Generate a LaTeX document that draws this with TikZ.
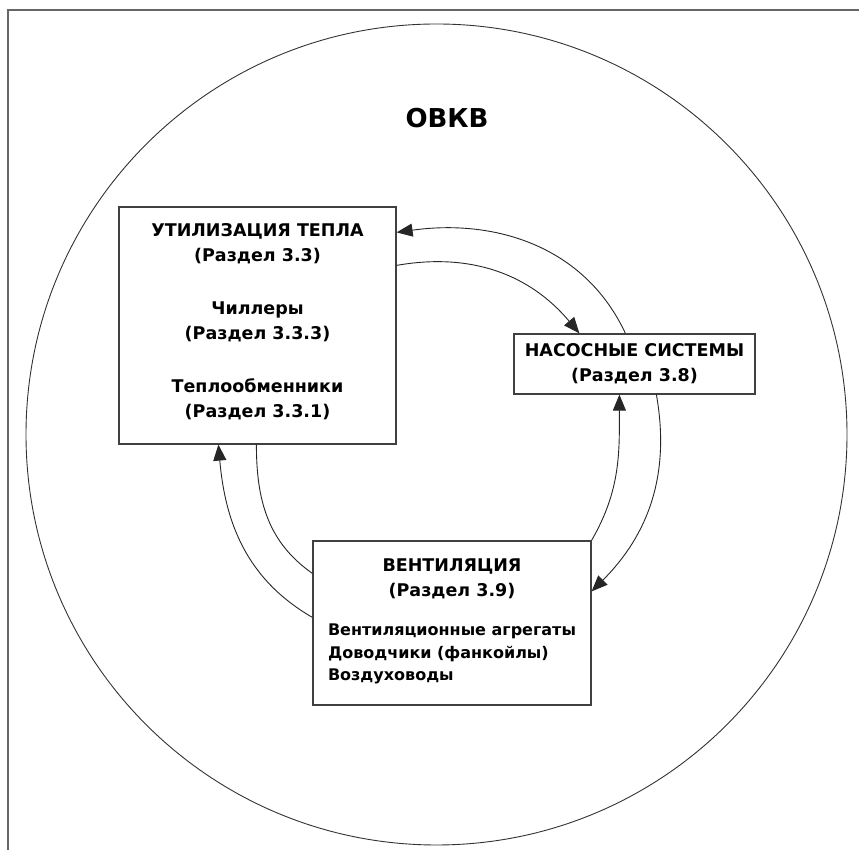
\documentclass[tikz,border=0pt]{standalone}
\usepackage{fontspec}
\setmainfont{DejaVu Sans}
\usepackage{tikz}
\usetikzlibrary{arrows.meta,positioning}

\begin{document}
\begin{tikzpicture}[
    x=1pt, y=1pt,
    block/.style={draw=black!75, line width=1.2pt, fill=white, align=center, inner sep=2pt, font=\bfseries\fontsize{17.5}{25}\selectfont},
    flow/.style={-{Triangle[length=16pt, width=13pt]}, line width=0.9pt, black!85},
    link/.style={line width=0.9pt, black!85}
]
    \useasboundingbox (0,0) rectangle (859,850);

    % Frame and outer circle
    \draw[black!60, line width=1.3pt] (8,0) -- (8,840) -- (859,840);
    \draw[black!80, line width=0.9pt] (436.5,415.5) circle (410.5);
    \node[font=\bfseries\fontsize{26}{30}\selectfont] (ovkv) at (447,732) {ОВКВ};

    % Three subsystems
    \node[block, minimum width=277pt, minimum height=237pt] (heat) at (257.5,524.5)
        {УТИЛИЗАЦИЯ ТЕПЛА\\(Раздел 3.3)\\[28pt]Чиллеры\\(Раздел 3.3.3)\\[28pt]Теплообменники\\(Раздел 3.3.1)\\[-15pt]};
    \node[block, minimum width=241pt, minimum height=60pt, inner sep=1pt] (pump) at (634.5,486)
        {НАСОСНЫЕ СИСТЕМЫ\\(Раздел 3.8)};
    \node[block, minimum width=278pt, minimum height=164pt] (vent) at (452,227)
        {ВЕНТИЛЯЦИЯ\\(Раздел 3.9)\\[20pt]{\fontsize{16}{22.5}\selectfont\begin{tabular}{@{}l@{}}Вентиляционные агрегаты\\Доводчики (фанкойлы)\\Воздуховоды\end{tabular}}};

    % Heat <-> pumps
    \draw[flow] ([yshift=-59pt]heat.north east) to[out=10, in=130] ([xshift=66pt]pump.north west);
    \draw[flow] ([xshift=112pt]pump.north west) to[out=115, in=8] ([yshift=-26pt]heat.north east);

    % Pumps <-> ventilation
    \draw[flow] ([xshift=143pt]pump.south west) to[out=-80, in=45] ([yshift=-51pt]vent.north east);
    \draw[flow] (vent.north east) to[out=60, in=-90] ([xshift=106pt]pump.south west);

    % Ventilation <-> heat
    \draw[link] ([xshift=138pt]heat.south west) to[out=-90, in=145] ([yshift=-33pt]vent.north west);
    \draw[flow] ([yshift=-77pt]vent.north west) to[out=150, in=-85] ([xshift=100pt]heat.south west);
\end{tikzpicture}
\end{document}
